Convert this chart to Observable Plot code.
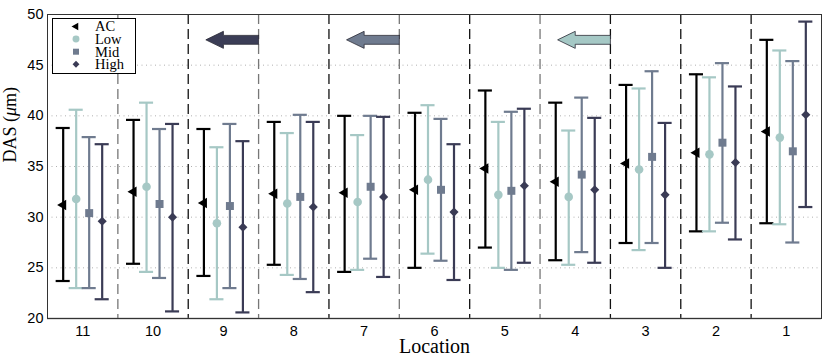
<!DOCTYPE html>
<html>
<head>
<meta charset="utf-8">
<script src="https://cdn.jsdelivr.net/npm/d3@7"></script>
<script src="https://cdn.jsdelivr.net/npm/@observablehq/plot@0.6"></script>
<style>
  body { margin: 0; background: white; }
  #wrap { position: relative; width: 830px; height: 359px; }
  #legend { position: absolute; left: 52px; top: 18px; }
</style>
</head>
<body>
<div id="wrap"></div>
<script>
// ---- data ----
const locations = ["11","10","9","8","7","6","5","4","3","2","1"];
const seriesNames = ["AC","Low","Mid","High"];
const seriesColors = ["#000000","#a6c8c5","#6f7b8f","#3a3b55"];
const seriesSymbols = ["triangle","circle","square","diamond2"];

const acMean  = [31.2, 32.5, 31.4, 32.3, 32.4, 32.7, 34.8, 33.5, 35.3, 36.35, 38.45];
const acLo    = [23.7, 25.4, 24.2, 25.3, 24.6, 25.0, 27.0, 25.75, 27.45, 28.6, 29.4];
const acHi    = [38.8, 39.6, 38.7, 39.4, 40.0, 40.3, 42.5, 41.3, 43.05, 44.1, 47.5];

const lowMean = [31.8, 33.0, 29.4, 31.35, 31.5, 33.7, 32.2, 32.0, 34.7, 36.2, 37.85];
const lowLo   = [23.0, 24.6, 21.9, 24.3, 24.8, 26.4, 25.0, 25.3, 26.75, 28.6, 29.3];
const lowHi   = [40.6, 41.3, 36.9, 38.3, 38.1, 41.05, 39.4, 38.55, 42.7, 43.8, 46.45];

const midMean = [30.4, 31.3, 31.1, 32.0, 33.0, 32.7, 32.6, 34.2, 35.95, 37.35, 36.5];
const midLo   = [23.0, 24.0, 23.0, 23.9, 25.9, 25.7, 24.8, 26.55, 27.45, 29.45, 27.5];
const midHi   = [37.9, 38.7, 39.2, 40.1, 40.0, 39.7, 40.4, 41.8, 44.4, 45.2, 45.4];

const highMean = [29.6, 30.0, 29.0, 31.0, 32.0, 30.5, 33.1, 32.7, 32.2, 35.4, 40.1];
const highLo   = [21.9, 20.7, 20.6, 22.6, 24.1, 23.8, 25.5, 25.5, 25.0, 27.8, 31.0];
const highHi   = [37.2, 39.2, 37.5, 39.4, 39.9, 37.2, 40.7, 39.8, 39.3, 42.9, 49.3];

const yTicks = [20, 25, 30, 35, 40, 45, 50];
const gridValues = [25, 30, 35, 40, 45];

const arrowLocations = ["9", "7", "4"];
const arrowColors = ["#3b3d56", "#6f7b8f", "#a5c8c5"];
const arrowLevel = 47.5;

const xLabel = "Location";
const yLabel = "DAS (μm)";

// ---- build ----
const means = [acMean, lowMean, midMean, highMean];
const los = [acLo, lowLo, midLo, highLo];
const his = [acHi, lowHi, midHi, highHi];
const offsets = [-19.5, -6.5, 6.5, 19.5];

const seriesData = seriesNames.map((name, s) => locations.map((loc, i) => ({
  loc, pos: i + 0.5, mean: means[s][i], lo: los[s][i], hi: his[s][i]
})));

const dividers = d3.range(1, locations.length);
const grayDiv = dividers.filter(d => d % 2 === 1 && d < 8);
const blackDiv = dividers.filter(d => !grayDiv.includes(d));

const arrowPolys = arrowLocations.map((loc, k) => {
  const i = locations.indexOf(loc);
  const sh = 0.44, hh = 0.84;
  const pts = [
    [i + 1, arrowLevel + sh], [i + 0.5, arrowLevel + sh], [i + 0.5, arrowLevel + hh],
    [i + 0.25, arrowLevel], [i + 0.5, arrowLevel - hh], [i + 0.5, arrowLevel - sh],
    [i + 1, arrowLevel - sh], [i + 1, arrowLevel + sh]
  ];
  return {color: arrowColors[k], pts: pts.map(([x, y]) => ({x, y}))};
});

const marks = [
  Plot.ruleY(gridValues, {stroke: "#b0b0b0", strokeDasharray: "1,3.5", strokeWidth: 1}),
  Plot.ruleX(grayDiv, {stroke: "#777", strokeDasharray: "10,5", strokeWidth: 1.3}),
  Plot.ruleX(blackDiv, {stroke: "#111", strokeDasharray: "10,5", strokeWidth: 1.3}),
];
seriesData.forEach((data, s) => {
  const c = seriesColors[s], dx = offsets[s];
  marks.push(Plot.ruleX(data, {x: "pos", y1: "lo", y2: "hi", stroke: c, strokeWidth: 2.2, dx}));
  marks.push(Plot.ruleY(data, {x1: d => d.pos - 0.1, x2: d => d.pos + 0.1, y: "lo", stroke: c, strokeWidth: 2.2, dx}));
  marks.push(Plot.ruleY(data, {x1: d => d.pos - 0.1, x2: d => d.pos + 0.1, y: "hi", stroke: c, strokeWidth: 2.2, dx}));
});
const symR = [3.9, 4.3, 4.5, 4.1];
seriesData.forEach((data, s) => {
  marks.push(Plot.dot(data, {
    x: "pos", y: "mean", dx: offsets[s], fill: seriesColors[s], stroke: "none",
    symbol: seriesSymbols[s], r: symR[s], rotate: s === 0 ? -90 : 0
  }));
});
arrowPolys.forEach(a => {
  marks.push(Plot.line(a.pts, {x: "x", y: "y", fill: a.color, stroke: "#2a2a35", strokeWidth: 0.8, curve: "linear"}));
});
marks.push(Plot.ruleY([20], {stroke: "#777", strokeWidth: 1.6}));
marks.push(Plot.frame({stroke: "#333", strokeWidth: 1}));
marks.push(Plot.text([xLabel], {frameAnchor: "bottom", dy: 34, fontFamily: "Liberation Serif", fontSize: 20, fill: "black"}));
marks.push(Plot.text([yLabel], {frameAnchor: "left", dx: -37, dy: -4, rotate: -90, fontFamily: "Liberation Serif", fontSize: 18, fill: "black"}));

const chart = Plot.plot({
  width: 830, height: 359,
  marginLeft: 47, marginRight: 9, marginTop: 14, marginBottom: 41,
  style: {fontFamily: "Liberation Sans", fontSize: "14px", color: "black", background: "white"},
  x: {domain: [0, locations.length], ticks: locations.map((d, i) => i + 0.5),
      tickFormat: d => locations[Math.floor(d)], tickSize: 0, tickPadding: 7, label: null},
  y: {domain: [20, 50], ticks: yTicks, tickSize: 0, tickPadding: 4, label: null},
  marks
});

d3.select(chart).selectAll('[aria-label^="x-axis"], [aria-label^="y-axis"]').attr("font-size", 14.5);

d3.select(chart).selectAll("text").filter(function() { return this.textContent === yLabel; })
  .each(function() {
    const t = d3.select(this);
    t.text(null);
    t.append("tspan").text("DAS (");
    t.append("tspan").attr("font-style", "italic").text("μ");
    t.append("tspan").text("m)");
  });

const wrap = document.getElementById("wrap");
wrap.appendChild(chart);

// ---- legend ----
const lg = d3.select(wrap).append("svg").attr("id", "legend").attr("width", 84).attr("height", 56);
lg.append("rect").attr("x", 0.5).attr("y", 0.5).attr("width", 83).attr("height", 55)
  .attr("fill", "white").attr("stroke", "black").attr("stroke-width", 1);
const symMap = {triangle: d3.symbolTriangle, circle: d3.symbolCircle, square: d3.symbolSquare, diamond2: d3.symbolDiamond2};
const legSizes = [26, 38, 36, 30];
seriesNames.forEach((name, s) => {
  const cy = 8.5 + s * 12.6;
  lg.append("path")
    .attr("d", d3.symbol(symMap[seriesSymbols[s]], legSizes[s])())
    .attr("transform", `translate(24,${cy}) rotate(${s === 0 ? -90 : 0})`)
    .attr("fill", seriesColors[s]);
  lg.append("text").attr("x", 43).attr("y", cy).attr("dy", "0.34em")
    .attr("font-family", "Liberation Serif").attr("font-size", 14.5).text(name);
});
</script>
</body>
</html>
